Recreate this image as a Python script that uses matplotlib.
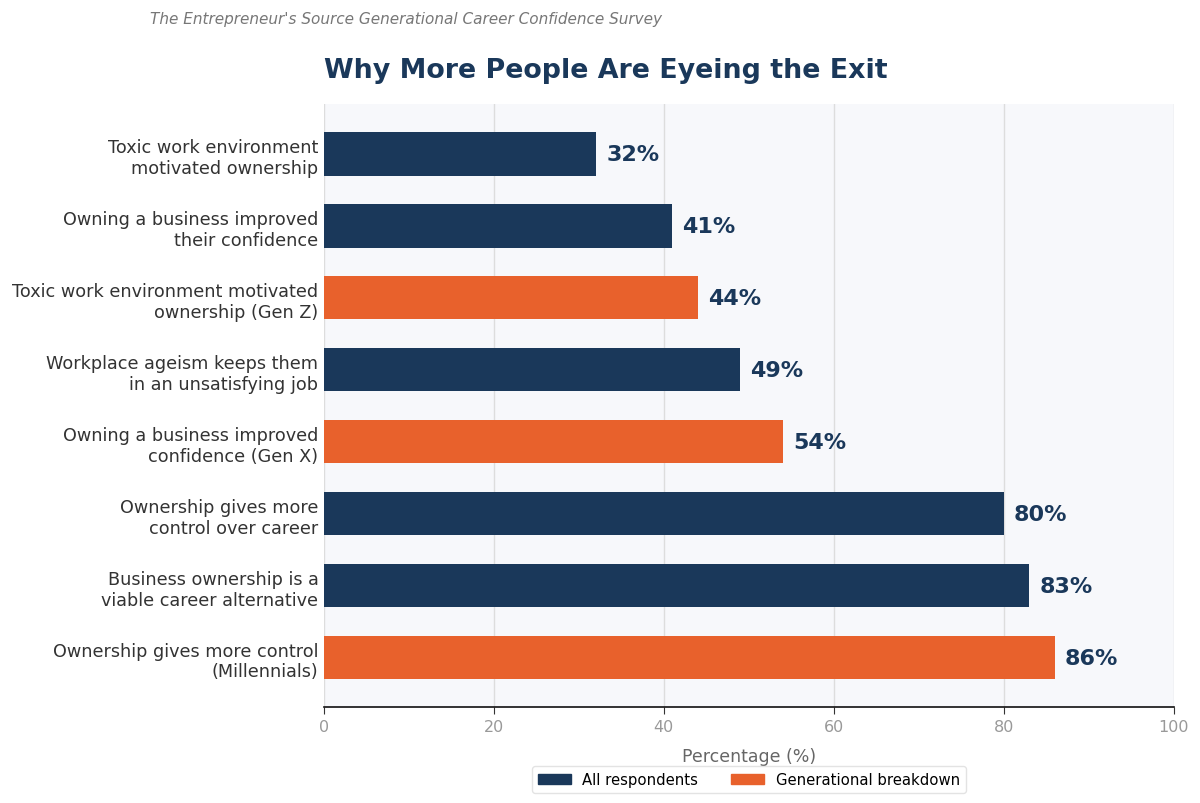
import matplotlib.pyplot as plt
from matplotlib.patches import Patch

labels = [
    "Toxic work environment\nmotivated ownership",
    "Owning a business improved\ntheir confidence",
    "Toxic work environment motivated\nownership (Gen Z)",
    "Workplace ageism keeps them\nin an unsatisfying job",
    "Owning a business improved\nconfidence (Gen X)",
    "Ownership gives more\ncontrol over career",
    "Business ownership is a\nviable career alternative",
    "Ownership gives more control\n(Millennials)",
]
values = [32, 41, 44, 49, 54, 80, 83, 86]
groups = ["all", "all", "gen", "all", "gen", "all", "all", "gen"]

navy = "#1a385a"
orange = "#e8612c"
colors = [navy if g == "all" else orange for g in groups]

fig = plt.figure(figsize=(12, 8.04), dpi=100)
ax = fig.add_axes([0.27, 0.119, 0.708, 0.75])
ax.set_facecolor("#f7f8fb")

y = list(range(len(labels)))
ax.barh(y, values, height=0.6, color=colors, zorder=3)
for yi, v in zip(y, values):
    ax.text(v + 1.2, yi, f"{v}%", va="center", ha="left", fontsize=16,
            fontweight="bold", color=navy, zorder=4)

ax.set_yticks(y)
ax.set_yticklabels(labels, fontsize=12.7, color="#333333")
ax.set_ylim(7.69, -0.69)
ax.set_xlim(0, 100)
ax.set_xticks([0, 20, 40, 60, 80, 100])
ax.tick_params(axis="x", colors="#999999", labelsize=11.5, length=5)
ax.tick_params(axis="x", color="#333333")
ax.tick_params(axis="y", length=0, pad=4)
ax.grid(axis="x", color="#dddddd", linewidth=1, zorder=0)
for s in ["top", "right", "left"]:
    ax.spines[s].set_visible(False)
ax.spines["bottom"].set_color("#111111")
ax.spines["bottom"].set_linewidth(1.2)

ax.set_xlabel("Percentage (%)", fontsize=12.5, color="#666666", labelpad=9)
ax.set_title("Why More People Are Eyeing the Exit", loc="left", fontsize=19.4,
             fontweight="bold", color=navy, pad=20)
fig.text(0.125, 0.976, "The Entrepreneur's Source Generational Career Confidence Survey",
         fontsize=11, style="italic", color="#777777", ha="left", va="center")

handles = [Patch(color=navy, label="All respondents"),
           Patch(color=orange, label="Generational breakdown")]
ax.legend(handles=handles, loc="upper center", bbox_to_anchor=(0.5, -0.085),
          ncol=2, frameon=True, fontsize=10.7, handlelength=2.2,
          columnspacing=2.2, borderpad=0.4, edgecolor="#dddddd", fancybox=True)

fig.savefig("out.png", dpi=100, facecolor="white")
